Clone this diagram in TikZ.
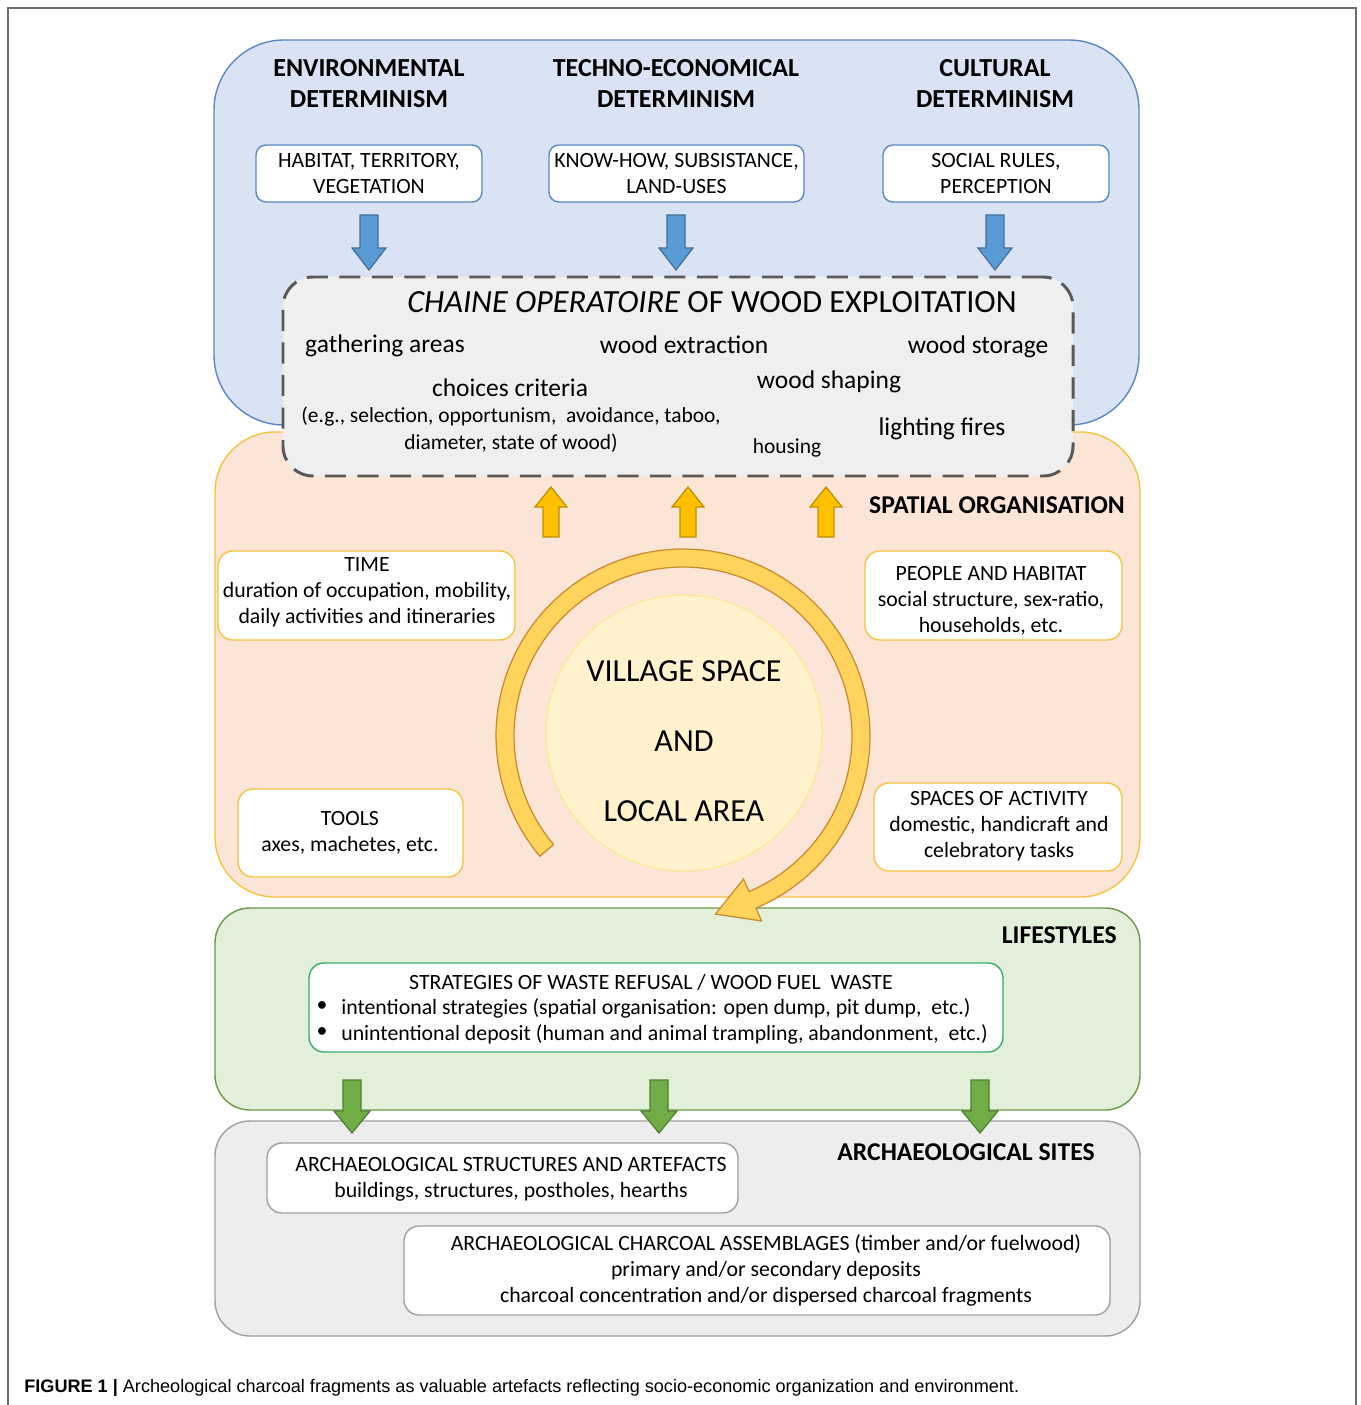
\documentclass[tikz,border=0pt]{standalone}
\usepackage{fontspec}
\setmainfont{Carlito}
\newfontfamily\capfont{Liberation Sans}
\definecolor{bluefill}{HTML}{DAE3F3}
\definecolor{blueline}{HTML}{5A87C5}
\definecolor{peachfill}{HTML}{FBE5D6}
\definecolor{peachline}{HTML}{F5C342}
\definecolor{greenfill}{HTML}{E2F0D9}
\definecolor{greenline}{HTML}{6A9A48}
\definecolor{grayfill}{HTML}{EDEDED}
\definecolor{grayline}{HTML}{A0A0A0}
\definecolor{dashfill}{HTML}{EFEFEF}
\definecolor{dashline}{HTML}{595959}
\definecolor{arrblue}{HTML}{5B9BD5}
\definecolor{arrblueline}{HTML}{41719C}
\definecolor{arrorange}{HTML}{FFC000}
\definecolor{arrorangeline}{HTML}{BF9000}
\definecolor{arrgreen}{HTML}{70AD47}
\definecolor{arrgreenline}{HTML}{507E32}
\definecolor{circfill}{HTML}{FFF2CC}
\definecolor{circline}{HTML}{FFE699}
\definecolor{ringfill}{HTML}{FFD35C}
\definecolor{ringline}{HTML}{C98A2E}
\definecolor{innergreen}{HTML}{3BAA6E}
\definecolor{framegray}{HTML}{6E6E6E}
\newcommand\fsbox{\fontsize{12.4}{14.7}\selectfont}
\newcommand\fshead{\bfseries\fontsize{14.8}{17.6}\selectfont}
\newcommand\fschain{\fontsize{18.4}{20}\selectfont}
\newcommand\fsitem{\fontsize{14.5}{16}\selectfont}
\newcommand\fseg{\fontsize{12.2}{15.3}\selectfont}
\newcommand\fshouse{\fontsize{12.2}{14}\selectfont}
\newcommand\fslabel{\bfseries\fontsize{14.6}{16}\selectfont}
\newcommand\fsvillage{\fontsize{18.3}{39.7}\selectfont}
\newcommand\fscap{\capfont\fontsize{10.3}{12}\selectfont}
% block arrows: x, y-start, y-end (tip), fill, draw, half shaft, half head, head length
\newcommand\blkarrow[8]{%
  \draw[fill=#4,draw=#5,line width=0.7pt,line join=miter]
    ({#1-#6},#2) -- ({#1+#6},#2) -- ({#1+#6},{#3-#8}) -- ({#1+#7},{#3-#8})
    -- (#1,#3) -- ({#1-#7},{#3-#8}) -- ({#1-#6},{#3-#8}) -- cycle;}
\newcommand\blkup[8]{%
  \draw[fill=#4,draw=#5,line width=0.7pt,line join=miter]
    ({#1-#6},#2) -- ({#1+#6},#2) -- ({#1+#6},{#3+#8}) -- ({#1+#7},{#3+#8})
    -- (#1,#3) -- ({#1-#7},{#3+#8}) -- ({#1-#6},{#3+#8}) -- cycle;}
\begin{document}
\begin{tikzpicture}[x=0.02cm,y=-0.02cm,
  bbox/.style={draw=blueline,fill=white,line width=0.8pt,rounded corners=0.2cm,inner sep=0pt,align=center,font=\fsbox},
  pbox/.style={draw=peachline,fill=white,line width=0.8pt,rounded corners=0.3cm,inner sep=0pt},
  abox/.style={draw=grayline,fill=white,line width=0.8pt,rounded corners=0.3cm,inner sep=0pt},
  hd/.style={align=center,font=\fshead,inner sep=0pt},
  item/.style={font=\fsitem,inner sep=0pt},
  lbl/.style={font=\fslabel,inner sep=0pt},
  txt/.style={font=\fsbox,inner sep=0pt,align=center}]
\useasboundingbox (0,0) rectangle (1360,1405);
\fill[white] (0,0) rectangle (1360,1405);
% outer frame
\draw[framegray,line width=1.1pt] (8,1405) -- (8,8) -- (1356,8) -- (1356,1405);
% panels
\draw[fill=bluefill,draw=blueline,line width=0.8pt,rounded corners=1.4cm] (214,40) rectangle (1139,425);
\draw[fill=peachfill,draw=peachline,line width=0.8pt,rounded corners=1.2cm] (215,432) rectangle (1140,897);
\draw[fill=greenfill,draw=greenline,line width=0.8pt,rounded corners=0.7cm] (215,908) rectangle (1140,1110);
\draw[fill=grayfill,draw=grayline,line width=0.8pt,rounded corners=0.7cm] (215,1121) rectangle (1140,1336);

% determinism headings
\node[hd] (env) at (369,84) {ENVIRONMENTAL\\DETERMINISM};
\node[hd] (tech) at (676,84) {TECHNO-ECONOMICAL\\DETERMINISM};
\node[hd] (cult) at (995,84) {CULTURAL\\DETERMINISM};
\node[bbox,minimum width=226*0.02cm,minimum height=57*0.02cm] (hab) at (369,173.5) {HABITAT, TERRITORY,\\VEGETATION};
\node[bbox,minimum width=255*0.02cm,minimum height=57*0.02cm] (know) at (676.5,173.5) {KNOW-HOW, SUBSISTANCE,\\LAND-USES};
\node[bbox,minimum width=226*0.02cm,minimum height=57*0.02cm] (soc) at (996,173.5) {SOCIAL RULES,\\PERCEPTION};
\blkarrow{369}{215}{270}{arrblue}{arrblueline}{9}{17}{22}
\blkarrow{676}{215}{270}{arrblue}{arrblueline}{9}{17}{22}
\blkarrow{995}{215}{270}{arrblue}{arrblueline}{9}{17}{22}

% spatial organisation
\blkup{551}{537}{487}{arrorange}{arrorangeline}{8}{16}{20}
\blkup{688}{537}{487}{arrorange}{arrorangeline}{8}{16}{20}
\blkup{826}{537}{487}{arrorange}{arrorangeline}{8}{16}{20}
\node[lbl] (spat) at (997,505) {SPATIAL ORGANISATION};
\node[pbox,minimum width=297*0.02cm,minimum height=89*0.02cm] (time) at (366.5,595.5) {};
\node[txt] (timet) at (367,592) {TIME\\duration of occupation, mobility,\\daily activities and itineraries};
\node[pbox,minimum width=257*0.02cm,minimum height=89*0.02cm] (people) at (993.5,595.5) {};
\node[txt] (peoplet) at (991,601) {PEOPLE AND HABITAT\\social structure, sex-ratio,\\households, etc.};
\node[pbox,minimum width=225*0.02cm,minimum height=88*0.02cm] (tools) at (350.5,833) {};
\node[txt] (toolst) at (350,833) {TOOLS\\axes, machetes, etc.};
\node[pbox,minimum width=248*0.02cm,minimum height=88*0.02cm] (spaces) at (998,827) {};
\node[txt] (spacest) at (999,826.5) {SPACES OF ACTIVITY\\domestic, handicraft and\\celebratory tasks};
\node[circle,fill=circfill,draw=circline,line width=0.8pt,minimum size=276*0.02cm,inner sep=0pt] (village) at (684,733) {};
\node[align=center,font=\fsvillage,inner sep=0pt] (vtext) at (684,741) {VILLAGE SPACE\\AND\\LOCAL AREA};

% lifestyles
\node[lbl,anchor=east] (life) at (1117,935) {LIFESTYLES};
\node[draw=innergreen,fill=white,line width=0.8pt,rounded corners=0.3cm,minimum width=694*0.02cm,minimum height=89*0.02cm,inner sep=0pt] (waste) at (656,1007.5) {};
\node[txt] (wtitle) at (651,982) {STRATEGIES OF WASTE REFUSAL / WOOD FUEL\ \ WASTE};
\node[txt] (b1) at (322,1007) {\textbullet};
\node[txt] (b2) at (322,1033) {\textbullet};
\node[txt,anchor=west] (w1) at (341,1008) {intentional strategies (spatial organisation: open dump, pit dump,\ \ etc.)};
\node[txt,anchor=west] (w2) at (341,1034) {unintentional deposit (human and animal trampling, abandonment,\ \ etc.)};
\blkarrow{352}{1080}{1133}{arrgreen}{arrgreenline}{9}{18}{22}
\blkarrow{659}{1080}{1133}{arrgreen}{arrgreenline}{9}{18}{22}
\blkarrow{980}{1080}{1133}{arrgreen}{arrgreenline}{9}{18}{22}

% archaeological sites
\node[lbl] (arch) at (966,1152) {ARCHAEOLOGICAL SITES};
\node[abox,minimum width=471*0.02cm,minimum height=70*0.02cm] (struct) at (502.5,1178) {};
\node[txt] (structt) at (511,1179) {ARCHAEOLOGICAL STRUCTURES AND ARTEFACTS\\buildings, structures, postholes, hearths};
\node[abox,minimum width=706*0.02cm,minimum height=89*0.02cm] (charc) at (757,1270.5) {};
\node[txt] (charct) at (766,1270.5) {ARCHAEOLOGICAL CHARCOAL ASSEMBLAGES (timber and/or fuelwood)\\primary and/or secondary deposits\\charcoal concentration and/or dispersed charcoal fragments};

% ring arrow
\draw[fill=ringfill,draw=ringline,line width=0.7pt,line join=miter]
  plot[domain=140:427,samples=90] ({683+187*cos(\x)},{736+187*sin(\x)})
  -- (761.5,921) -- (715.5,914) -- (743.5,879)
  -- plot[domain=427:140,samples=90] ({683+169*cos(\x)},{736+169*sin(\x)}) -- cycle;

% chaine operatoire
\node[draw=dashline,fill=dashfill,line width=1.7pt,dash pattern=on 12pt off 6.5pt,rounded corners=0.6cm,minimum width=790*0.02cm,minimum height=199*0.02cm,inner sep=0pt] (chaine) at (678,376.5) {};
\node[font=\fschain,inner sep=0pt] (ctitle) at (712,302) {\textit{CHAINE OPERATOIRE} OF WOOD EXPLOITATION};
\node[item] (gath) at (385,346) {gathering areas};
\node[item] (extr) at (684,345) {wood extraction};
\node[item] (stor) at (978,347) {wood storage};
\node[item] (choi) at (510,388) {choices criteria};
\node[item] (shap) at (829,382) {wood shaping};
\node[font=\fseg,align=center,inner sep=0pt] (eg) at (511,430) {(e.g., selection, opportunism,\ \ avoidance, taboo,\\diameter, state of wood)};
\node[font=\fshouse,inner sep=0pt] (hous) at (787,448) {housing};
\node[item] (fire) at (942,429) {lighting fires};

% caption
\node[font=\fscap,anchor=west,inner sep=0pt] (cap) at (24,1388) {\textbf{FIGURE 1 |} Archeological charcoal fragments as valuable artefacts reflecting socio-economic organization and environment.};
\end{tikzpicture}
\end{document}
